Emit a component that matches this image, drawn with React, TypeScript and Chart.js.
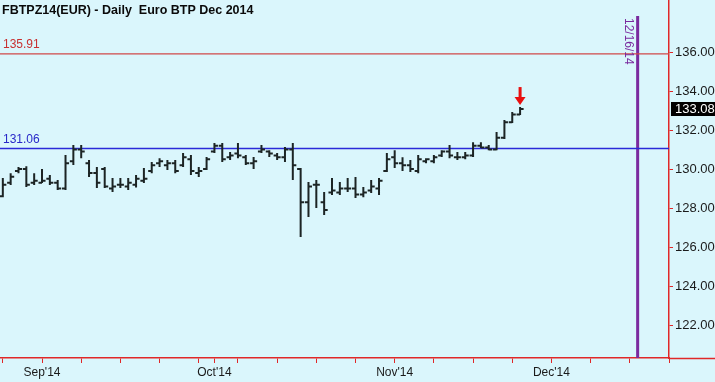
import React, { useEffect, useRef } from "react";
import { Chart, registerables } from "chart.js";

Chart.register(...registerables);

const TITLE = "FBTPZ14(EUR) - Daily  Euro BTP Dec 2014";

// trading-day index (0 = 1 Sep 2014)
const dayIndex = [
  -5, -4, -3, -2, -1, 0, 1, 2, 3, 4, 5, 6, 7, 8, 9, 10, 11, 12, 13, 14, 15, 16,
  17, 18, 19, 20, 21, 22, 23, 24, 25, 26, 27, 28, 29, 30, 31, 32, 33, 34, 35,
  36, 37, 38, 39, 40, 41, 42, 43, 44, 45, 46, 47, 48, 49, 50, 51, 52, 53, 54,
  55, 56, 57, 58, 59, 60, 61,
];
const opens = [
  128.6, 129.3, 129.9, 130.0, 129.3, 129.3, 129.5, 129.3, 129.0, 130.4, 131.0,
  130.3, 129.8, 130.0, 129.0, 129.2, 129.1, 129.2, 129.4, 129.9, 130.3, 130.2,
  130.3, 130.2, 130.5, 129.8, 130.0, 130.9, 131.2, 130.6, 130.8, 130.6, 130.3,
  130.9, 130.9, 130.7, 130.6, 131.0, 130.0, 128.3, 129.2, 128.3, 128.8, 128.8,
  129.0, 129.0, 128.7, 128.9, 129.0, 129.9, 130.6, 130.3, 130.2, 129.9, 130.4,
  130.4, 130.7, 130.9, 130.6, 130.6, 130.7, 131.2, 131.1, 131.0, 131.6, 132.4,
  132.8,
];
const highs = [
  129.54, 129.79, 130.1, 130.15, 129.79, 130.0, 129.69, 129.44, 130.72, 131.23,
  131.23, 130.46, 130.1, 130.1, 129.54, 129.54, 129.54, 129.7, 130.05, 130.36,
  130.56, 130.46, 130.46, 130.82, 130.72, 130.1, 130.62, 131.33, 131.33, 130.87,
  131.33, 130.72, 130.62, 131.23, 130.97, 130.82, 131.13, 131.33, 130.05,
  129.33, 129.44, 128.82, 129.54, 129.33, 129.54, 129.59, 129.08, 129.44,
  129.54, 130.82, 130.97, 130.6, 130.46, 130.72, 130.56, 130.72, 130.97, 131.23,
  130.87, 130.87, 131.38, 131.38, 131.23, 131.9, 132.51, 132.92, 133.18,
];
const lows = [
  128.56, 129.18, 129.79, 129.08, 129.18, 129.28, 129.18, 128.92, 128.92,
  130.21, 130.56, 129.59, 129.03, 129.03, 128.82, 129.03, 128.92, 129.05,
  129.28, 129.79, 130.1, 129.95, 129.79, 130.1, 129.69, 129.59, 129.95, 130.82,
  130.36, 130.46, 130.56, 130.21, 130.0, 130.82, 130.62, 130.46, 130.36, 129.44,
  126.51, 127.54, 128.0, 127.64, 128.67, 128.67, 128.82, 128.51, 128.56, 128.77,
  128.67, 129.85, 130.05, 129.9, 129.85, 129.79, 130.3, 130.3, 130.62, 130.56,
  130.46, 130.5, 130.62, 131.08, 130.97, 130.97, 131.54, 132.36, 132.77,
];
const closes = [
  129.2, 129.6, 130.0, 129.2, 129.4, 129.4, 129.3, 129.0, 130.3, 131.0, 130.9,
  129.8, 129.3, 129.1, 129.1, 129.2, 129.3, 129.5, 129.5, 130.2, 130.4, 130.3,
  129.9, 130.6, 129.9, 129.9, 130.5, 131.2, 130.5, 130.7, 130.7, 130.3, 130.4,
  131.0, 130.8, 130.6, 131.0, 130.2, 128.3, 129.1, 129.2, 127.9, 128.9, 129.0,
  129.0, 128.7, 128.8, 129.1, 129.4, 130.5, 130.3, 130.2, 130.0, 130.5, 130.5,
  130.6, 130.9, 130.7, 130.6, 130.7, 131.2, 131.1, 131.0, 131.6, 132.4, 132.8,
  133.08,
];

const monthTickIndex = [0, 22, 45, 65];
const monthLabels = ["Sep'14", "Oct'14", "Nov'14", "Dec'14"];
const weekTickIndex = [
  -5, 0, 5, 10, 15, 20, 25, 30, 35, 40, 45, 50, 55, 60, 65, 70, 75, 80,
];
const priceTicks = [122, 124, 126, 128, 130, 132, 134, 136];

const RESISTANCE = 135.91;
const SUPPORT = 131.06;
const EXPIRY_INDEX = 76;
const EXPIRY_LABEL = "12/16/14";
const EXPIRY_TOP = 137.85;
const LAST_CLOSE = 133.08;

const X_MIN = -5.36;
const X_MAX = 80;
const Y_MIN = 120.31;
const Y_MAX = 138.67;

const FONT = "'Liberation Sans', Arial, sans-serif";
const BG = "rgb(218,246,252)";
const AXIS_RED = "#e02828";
const PURPLE = "#7a2a9e";

function buildOhlcPoints() {
  const pts: { x: number; y: number | null }[] = [];
  const tick = 0.45;
  for (let k = 0; k < dayIndex.length; k++) {
    const i = dayIndex[k];
    pts.push({ x: i, y: lows[k] }, { x: i, y: highs[k] }, { x: i, y: null });
    pts.push({ x: i - tick, y: opens[k] }, { x: i, y: opens[k] }, { x: i, y: null });
    pts.push({ x: i, y: closes[k] }, { x: i + tick, y: closes[k] }, { x: i, y: null });
  }
  return pts;
}

const overlayPlugin = {
  id: "overlay",
  beforeDraw(chart: any) {
    const ctx = chart.ctx;
    ctx.save();
    ctx.fillStyle = BG;
    ctx.fillRect(0, 0, chart.width, chart.height);
    ctx.restore();
  },
  afterDraw(chart: any) {
    const ctx = chart.ctx;
    const xs = chart.scales.x;
    const ys = chart.scales.y;
    const area = chart.chartArea;
    ctx.save();

    // extend bottom axis line to the right edge
    ctx.strokeStyle = AXIS_RED;
    ctx.lineWidth = 1.5;
    ctx.beginPath();
    ctx.moveTo(area.right, area.bottom + 0.5);
    ctx.lineTo(chart.width, area.bottom + 0.5);
    ctx.stroke();

    // title
    ctx.fillStyle = "#0a0a0a";
    ctx.font = "bold 12.5px " + FONT;
    ctx.textBaseline = "top";
    ctx.textAlign = "left";
    ctx.fillText(TITLE, 2, 4);

    // line labels
    ctx.font = "12px " + FONT;
    ctx.textBaseline = "bottom";
    ctx.fillStyle = "#c83030";
    ctx.fillText(RESISTANCE.toFixed(2), 3, ys.getPixelForValue(RESISTANCE) - 3);
    ctx.fillStyle = "#2828c8";
    ctx.fillText(SUPPORT.toFixed(2), 3, ys.getPixelForValue(SUPPORT) - 3);

    // expiry label (rotated)
    const ex = xs.getPixelForValue(EXPIRY_INDEX);
    ctx.save();
    ctx.translate(ex - 9, ys.getPixelForValue(EXPIRY_TOP) + 2);
    ctx.rotate(Math.PI / 2);
    ctx.fillStyle = PURPLE;
    ctx.font = "12px " + FONT;
    ctx.textBaseline = "middle";
    ctx.textAlign = "left";
    ctx.fillText(EXPIRY_LABEL, 0, 0);
    ctx.restore();

    // last close box on right axis
    const cy = ys.getPixelForValue(LAST_CLOSE);
    ctx.fillStyle = "#000";
    ctx.fillRect(area.right + 2, cy - 7, chart.width - area.right - 2, 14);
    ctx.fillStyle = "#fff";
    ctx.font = "13px " + FONT;
    ctx.textBaseline = "middle";
    ctx.textAlign = "left";
    ctx.fillText(LAST_CLOSE.toFixed(2), area.right + 6, cy + 0.5);

    // red arrow above last bar
    const last = dayIndex.length - 1;
    const ax = xs.getPixelForValue(dayIndex[last]);
    const tip = ys.getPixelForValue(highs[last]) - 2;
    ctx.fillStyle = "#e81010";
    ctx.fillRect(ax - 1.5, tip - 18, 3, 11);
    ctx.beginPath();
    ctx.moveTo(ax - 5.5, tip - 8);
    ctx.lineTo(ax + 5.5, tip - 8);
    ctx.lineTo(ax, tip);
    ctx.closePath();
    ctx.fill();

    ctx.restore();
  },
};

export default function App() {
  const canvasRef = useRef<HTMLCanvasElement | null>(null);

  useEffect(() => {
    const canvas = canvasRef.current;
    if (!canvas) return;
    const chart = new Chart(canvas, {
      type: "scatter",
      data: {
        datasets: [
          {
            data: buildOhlcPoints() as any,
            showLine: true,
            spanGaps: false,
            borderColor: "#1c2424",
            borderWidth: 2,
            pointRadius: 0,
          },
          {
            data: [
              { x: X_MIN, y: SUPPORT },
              { x: X_MAX, y: SUPPORT },
            ],
            showLine: true,
            borderColor: "#2a2ad8",
            borderWidth: 1.5,
            pointRadius: 0,
          },
          {
            data: [
              { x: X_MIN, y: RESISTANCE },
              { x: X_MAX, y: RESISTANCE },
            ],
            showLine: true,
            borderColor: "#d04848",
            borderWidth: 1.2,
            pointRadius: 0,
          },
          {
            data: [
              { x: EXPIRY_INDEX, y: EXPIRY_TOP },
              { x: EXPIRY_INDEX, y: Y_MIN },
            ],
            showLine: true,
            borderColor: PURPLE,
            borderWidth: 3,
            pointRadius: 0,
          },
        ],
      },
      options: {
        animation: false,
        responsive: false,
        events: [],
        layout: { padding: 0 },
        plugins: {
          legend: { display: false },
          tooltip: { enabled: false },
          title: { display: false },
        },
        scales: {
          x: {
            type: "linear",
            position: "bottom",
            min: X_MIN,
            max: X_MAX,
            afterBuildTicks: (scale: any) => {
              const vals = Array.from(
                new Set([...weekTickIndex, ...monthTickIndex])
              ).sort((a, b) => a - b);
              scale.ticks = vals.map((v) => ({ value: v }));
            },
            afterFit: (scale: any) => {
              scale.height = 24;
              scale.paddingLeft = 0;
              scale.paddingRight = 0;
            },
            ticks: {
              autoSkip: false,
              maxRotation: 0,
              minRotation: 0,
              padding: 2,
              color: "#1a1a1a",
              font: { family: FONT, size: 12 },
              callback: (v: any) => {
                const k = monthTickIndex.indexOf(Number(v));
                return k >= 0 ? monthLabels[k] : "";
              },
            },
            grid: {
              drawOnChartArea: false,
              drawTicks: true,
              tickLength: 5,
              color: AXIS_RED,
              lineWidth: 1,
            },
            border: { display: true, color: AXIS_RED, width: 1.5 },
          },
          y: {
            type: "linear",
            position: "right",
            min: Y_MIN,
            max: Y_MAX,
            afterBuildTicks: (scale: any) => {
              scale.ticks = priceTicks.map((v) => ({ value: v }));
            },
            afterFit: (scale: any) => {
              scale.width = 46;
              scale.paddingTop = 0;
              scale.paddingBottom = 0;
            },
            ticks: {
              padding: 2,
              color: "#1a1a1a",
              font: { family: FONT, size: 13 },
              callback: (v: any) => Number(v).toFixed(2),
            },
            grid: {
              drawOnChartArea: false,
              drawTicks: true,
              tickLength: 4,
              color: AXIS_RED,
              lineWidth: 1,
            },
            border: { display: true, color: AXIS_RED, width: 1.5 },
          },
        },
      },
      plugins: [overlayPlugin],
    });
    return () => chart.destroy();
  }, []);

  return (
    <div style={{ position: "fixed", left: 0, top: 0, width: 715, height: 382 }}>
      <canvas ref={canvasRef} width={715} height={382} />
    </div>
  );
}
